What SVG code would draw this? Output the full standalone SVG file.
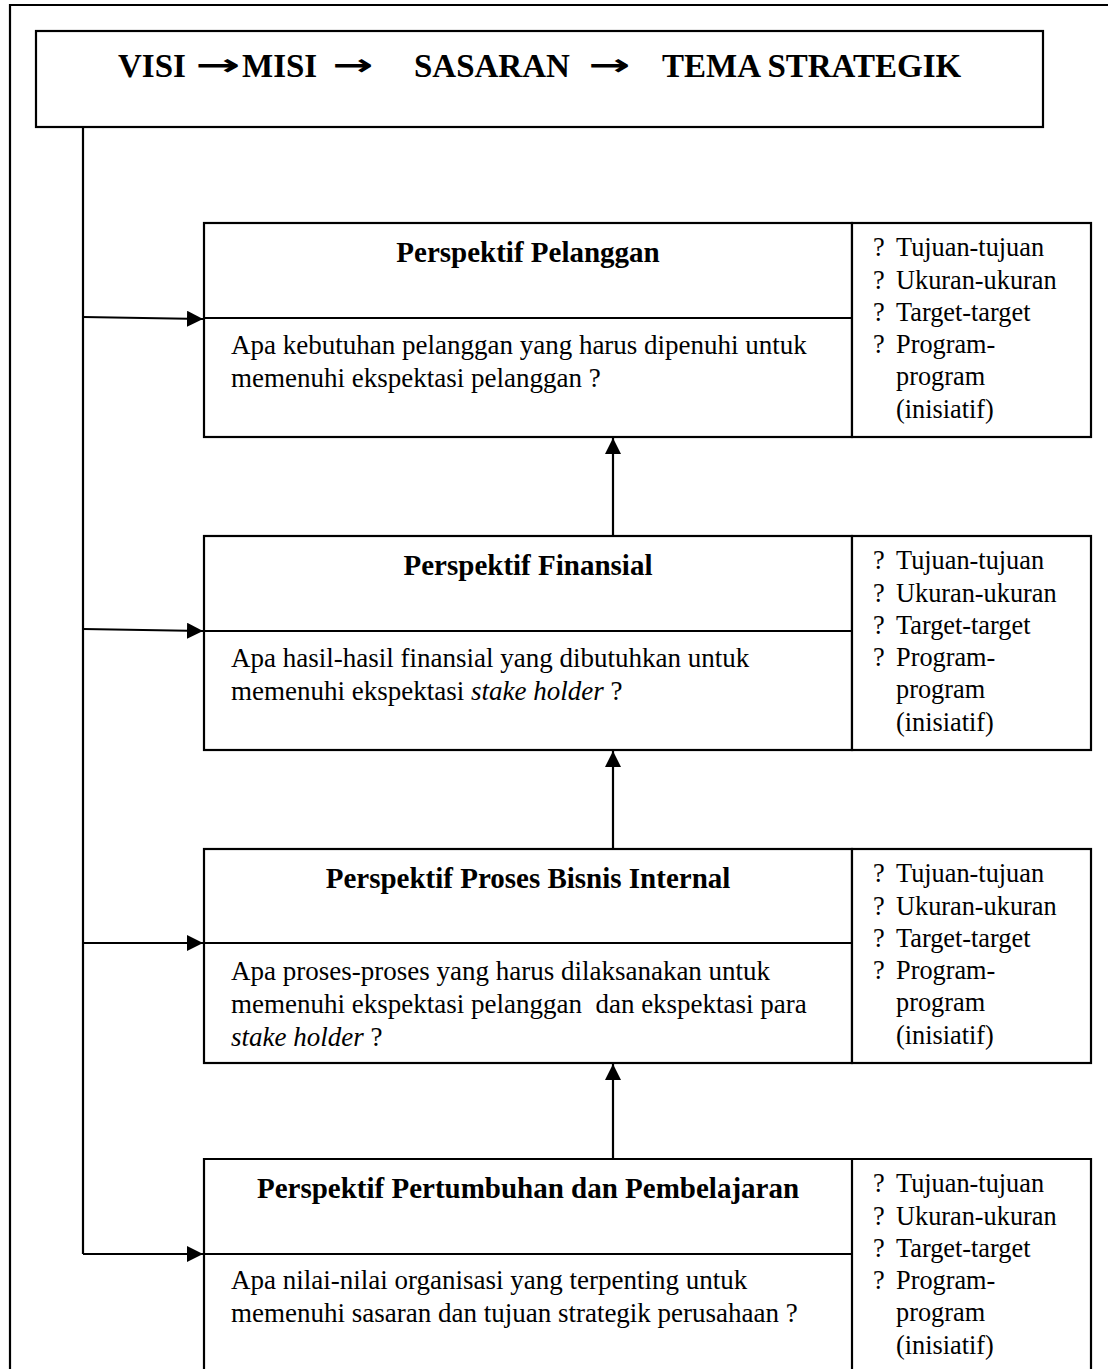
<svg xmlns="http://www.w3.org/2000/svg" width="1108" height="1369" viewBox="0 0 1108 1369">
<defs>
<style>
.ln{fill:none;stroke:#000;stroke-width:2.2}
.box{fill:#fff;stroke:#000;stroke-width:2.2}
.hd{font-family:"Liberation Serif","Times New Roman",serif;font-weight:bold;font-size:33px;fill:#000}
.ar{font-family:"DejaVu Sans",sans-serif;font-weight:bold;font-size:30px;fill:#000}
.tt{font-family:"Liberation Serif","Times New Roman",serif;font-weight:bold;font-size:29px;fill:#000;text-anchor:middle}
.bd{font-family:"Liberation Serif","Times New Roman",serif;font-size:27px;fill:#000}
.rc{font-family:"Liberation Serif","Times New Roman",serif;font-size:26.3px;fill:#000}
.it{font-style:italic}
</style>
<marker id="ah" markerWidth="16" markerHeight="16" refX="16" refY="8" orient="auto" markerUnits="userSpaceOnUse">
<path d="M0,0 L16,8 L0,16 Z" fill="#000"/>
</marker>
</defs>
<rect width="1108" height="1369" fill="#fff"/>
<path class="ln" d="M10,1369 V5 H1108"/>

<g id="header">
<rect class="box" x="36" y="31" width="1007" height="96" stroke-width="2.6"/>
<text class="hd" x="118" y="77">VISI</text>
<text class="ar" x="195" y="75" textLength="45" lengthAdjust="spacingAndGlyphs">→</text>
<text class="hd" x="242" y="77">MISI</text>
<text class="ar" x="332" y="75" textLength="41" lengthAdjust="spacingAndGlyphs">→</text>
<text class="hd" x="414" y="77">SASARAN</text>
<text class="ar" x="588" y="75" textLength="42" lengthAdjust="spacingAndGlyphs">→</text>
<text class="hd" x="662" y="77">TEMA STRATEGIK</text>
</g>

<g id="connectors">
<path class="ln" d="M83,127 V1254"/>
<path class="ln" d="M83,317 L203,319" marker-end="url(#ah)"/>
<path class="ln" d="M83,629 L203,631" marker-end="url(#ah)"/>
<path class="ln" d="M83,943 H203" marker-end="url(#ah)"/>
<path class="ln" d="M83,1254 H203" marker-end="url(#ah)"/>
<path class="ln" d="M613,536 V438" marker-end="url(#ah)"/>
<path class="ln" d="M613,849 V751" marker-end="url(#ah)"/>
<path class="ln" d="M613,1159 V1064" marker-end="url(#ah)"/>
</g>

<g id="pelanggan">
<rect class="box" x="204" y="223" width="648" height="214"/>
<line class="ln" x1="204" y1="318" x2="852" y2="318"/>
<rect class="box" x="852" y="223" width="239" height="214"/>
<text class="tt" x="528" y="262">Perspektif Pelanggan</text>
<text class="bd" x="231" y="354">Apa kebutuhan pelanggan yang harus dipenuhi untuk</text>
<text class="bd" x="231" y="387">memenuhi ekspektasi pelanggan ?</text>
<g class="rc">
<text x="873" y="256">?</text><text x="896" y="256">Tujuan-tujuan</text>
<text x="873" y="289">?</text><text x="896" y="289">Ukuran-ukuran</text>
<text x="873" y="321">?</text><text x="896" y="321">Target-target</text>
<text x="873" y="353">?</text><text x="896" y="353">Program-</text>
<text x="896" y="385">program</text>
<text x="896" y="418">(inisiatif)</text>
</g>
</g>

<g id="finansial">
<rect class="box" x="204" y="536" width="648" height="214"/>
<line class="ln" x1="204" y1="631" x2="852" y2="631"/>
<rect class="box" x="852" y="536" width="239" height="214"/>
<text class="tt" x="528" y="575">Perspektif Finansial</text>
<text class="bd" x="231" y="667">Apa hasil-hasil finansial yang dibutuhkan untuk</text>
<text class="bd" x="231" y="700">memenuhi ekspektasi <tspan class="it">stake holder</tspan> ?</text>
<g class="rc">
<text x="873" y="569">?</text><text x="896" y="569">Tujuan-tujuan</text>
<text x="873" y="602">?</text><text x="896" y="602">Ukuran-ukuran</text>
<text x="873" y="634">?</text><text x="896" y="634">Target-target</text>
<text x="873" y="666">?</text><text x="896" y="666">Program-</text>
<text x="896" y="698">program</text>
<text x="896" y="731">(inisiatif)</text>
</g>
</g>

<g id="proses">
<rect class="box" x="204" y="849" width="648" height="214"/>
<line class="ln" x1="204" y1="943" x2="852" y2="943"/>
<rect class="box" x="852" y="849" width="239" height="214"/>
<text class="tt" x="528" y="888">Perspektif Proses Bisnis Internal</text>
<text class="bd" x="231" y="980">Apa proses-proses yang harus dilaksanakan untuk</text>
<text class="bd" x="231" y="1013" xml:space="preserve">memenuhi ekspektasi pelanggan  dan ekspektasi para</text>
<text class="bd" x="231" y="1046"><tspan class="it">stake holder</tspan> ?</text>
<g class="rc">
<text x="873" y="882">?</text><text x="896" y="882">Tujuan-tujuan</text>
<text x="873" y="915">?</text><text x="896" y="915">Ukuran-ukuran</text>
<text x="873" y="947">?</text><text x="896" y="947">Target-target</text>
<text x="873" y="979">?</text><text x="896" y="979">Program-</text>
<text x="896" y="1011">program</text>
<text x="896" y="1044">(inisiatif)</text>
</g>
</g>

<g id="pertumbuhan">
<path class="ln" d="M204,1380 V1159 H1091 V1380"/>
<line class="ln" x1="204" y1="1254" x2="852" y2="1254"/>
<line class="ln" x1="852" y1="1159" x2="852" y2="1380"/>
<text class="tt" x="528" y="1198">Perspektif Pertumbuhan dan Pembelajaran</text>
<text class="bd" x="231" y="1289">Apa nilai-nilai organisasi yang terpenting untuk</text>
<text class="bd" x="231" y="1322">memenuhi sasaran dan tujuan strategik perusahaan ?</text>
<g class="rc">
<text x="873" y="1192">?</text><text x="896" y="1192">Tujuan-tujuan</text>
<text x="873" y="1225">?</text><text x="896" y="1225">Ukuran-ukuran</text>
<text x="873" y="1257">?</text><text x="896" y="1257">Target-target</text>
<text x="873" y="1289">?</text><text x="896" y="1289">Program-</text>
<text x="896" y="1321">program</text>
<text x="896" y="1354">(inisiatif)</text>
</g>
</g>
</svg>
